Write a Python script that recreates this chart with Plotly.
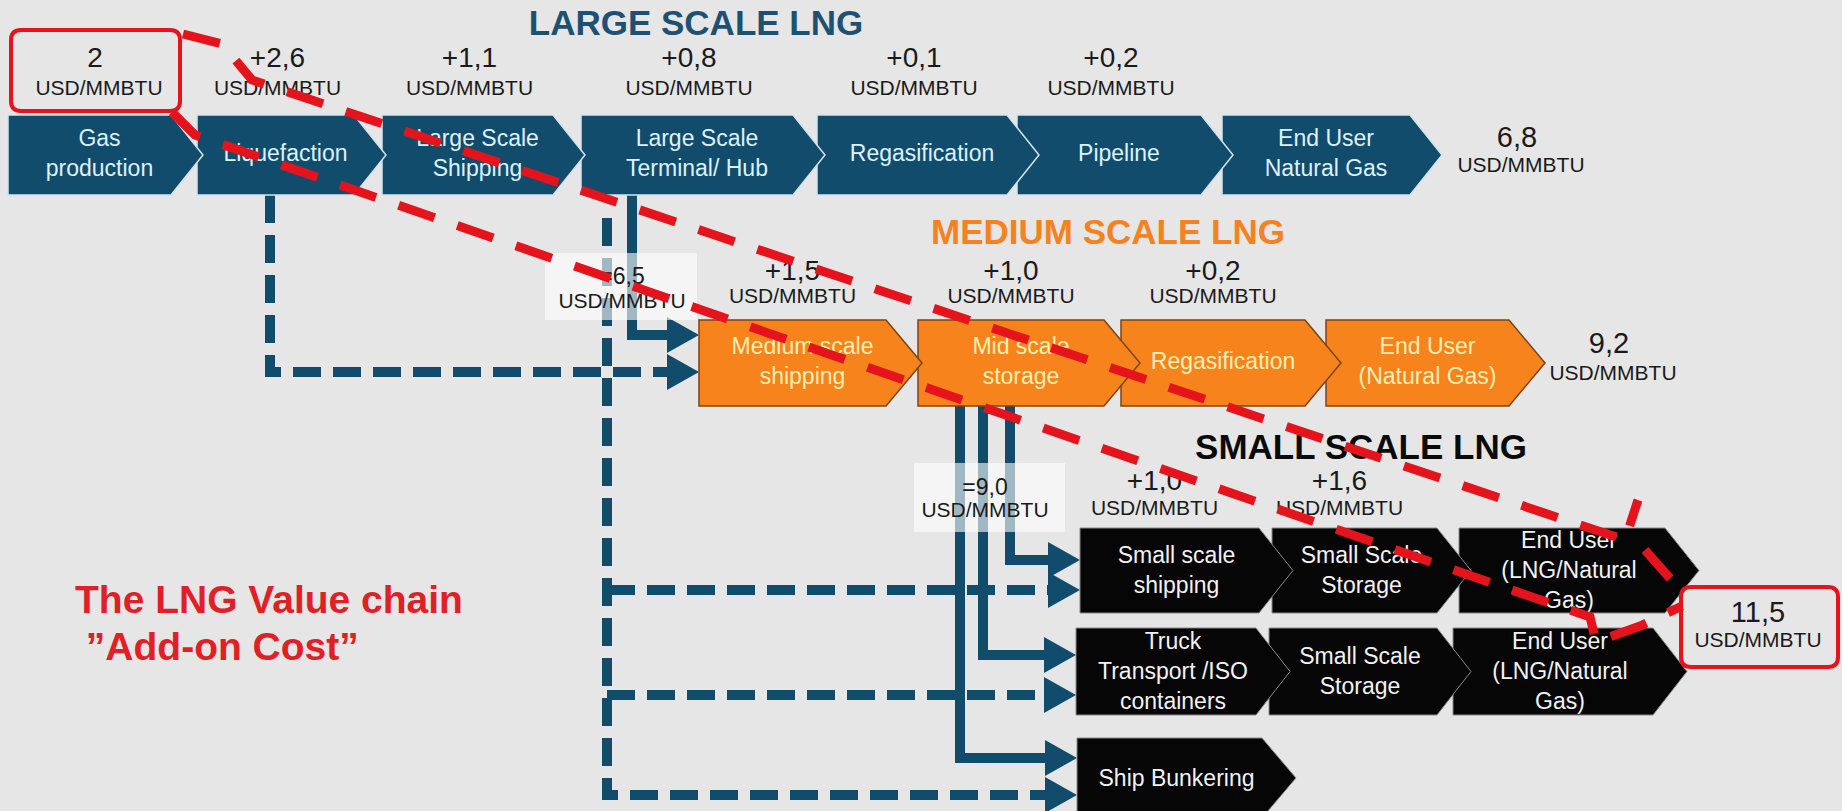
import plotly.graph_objects as go

# ---------------- data ----------------
start_price = 2.0
large_steps = ["Gas<br>production", "Liquefaction", "Large Scale<br>Shipping",
               "Large Scale<br>Terminal/ Hub", "Regasification", "Pipeline",
               "End User<br>Natural Gas"]
large_adds = [2.6, 1.1, 0.8, 0.1, 0.2]          # cost added at steps 2..6
large_total = 6.8

medium_steps = ["Medium scale<br>shipping", "Mid scale<br>storage",
                "Regasification", "End User<br>(Natural Gas)"]
medium_entry = 6.5
medium_adds = [1.5, 1.0, 0.2]
medium_total = 9.2

small_rows = [["Small scale<br>shipping", "Small Scale<br>Storage", "End User<br>(LNG/Natural<br>Gas)"],
              ["Truck<br>Transport /ISO<br>containers", "Small Scale<br>Storage", "End User<br>(LNG/Natural<br>Gas)"],
              ["Ship Bunkering"]]
small_entry = 9.0
small_adds = [1.0, 1.6]
small_total = 11.5

titles = ["LARGE SCALE LNG", "MEDIUM SCALE LNG", "SMALL SCALE LNG"]
unit = "USD/MMBTU"
caption = ["The LNG Value chain", " \u201dAdd-on Cost\u201d"]

# ---------------- layout geometry (pixels) ----------------
W, H = 1842, 811
BG = "#E6E6E6"
BLUE = "#124C6C"
ORANGE = "#F7831C"
RED = "#E5141C"
FONT = "Liberation Sans"

LARGE_X = [(8, 203), (197, 386), (382, 585), (581, 825), (817, 1039), (1017, 1233), (1222, 1442)]
LARGE_Y = (115, 195)
MED_X = [(699, 922), (918, 1140), (1121, 1341), (1326, 1545)]
MED_Y = (320, 406)
SMALL_X = [[(1080, 1293), (1272, 1471), (1459, 1699)],
           [(1076, 1290), (1269, 1471), (1453, 1687)],
           [(1077, 1296)]]
SMALL_Y = [(528, 613), (628, 715), (738, 818)]


def fmt(v, sign=""):
    if sign == "" and v == start_price:
        return "%g" % v
    return sign + ("%.1f" % v).replace(".", ",")


def chevron(L, R, top, bot, d):
    mid = (top + bot) / 2
    return f"M{L},{top} L{R-d},{top} L{R},{mid} L{R-d},{bot} L{L},{bot} Z"


shapes = []
traces = []


def text_trace(xs, ys, texts, size, color, pos="middle center", bold=False):
    if bold:
        texts = [f"<b>{t}</b>" for t in texts]
    traces.append(go.Scatter(x=xs, y=ys, text=texts, mode="text", textposition=pos,
                             textfont=dict(size=size, color=color, family=FONT),
                             hoverinfo="skip", showlegend=False))


# ---------- connectors (drawn first, below boxes) ----------
def conn(points, dash=None, color=BLUE, width=10):
    p = "M" + " L".join(f"{x},{y}" for x, y in points)
    shapes.append(dict(type="path", path=p, layer="below",
                       line=dict(color=color, width=width, dash=dash if dash else "solid")))


def head(xtip, y, length=32, half=18):
    shapes.append(dict(type="path", layer="below",
                       path=f"M{xtip-length},{y-half} L{xtip},{y} L{xtip-length},{y+half} Z",
                       fillcolor=BLUE, line=dict(width=0)))


DASH = "28px,12px"
# Liquefaction -> medium shipping (dashed)
conn([(270, 195), (270, 372), (670, 372)], DASH)
head(699, 372)
# Terminal -> medium shipping (solid)
conn([(632, 195), (632, 335), (670, 335)])
head(699, 335)
# Terminal -> small scale (long dashed)
conn([(607, 218), (607, 795), (1050, 795)], DASH)
conn([(607, 590), (1050, 590)], DASH)
conn([(607, 695), (1048, 695)], DASH)
head(1077, 795)
head(1080, 590)
head(1076, 695)
# Mid scale storage -> small scale (solid)
conn([(1010, 406), (1010, 560), (1050, 560)])
conn([(983, 406), (983, 655), (1048, 655)])
conn([(960, 406), (960, 758), (1050, 758)])
head(1080, 560)
head(1076, 655)
head(1077, 758)

# ---------- chevrons (reverse order so earlier tips overlap later boxes) ----------
for (L, R) in reversed(LARGE_X):
    shapes.append(dict(type="path", layer="below", path=chevron(L, R, *LARGE_Y, 32),
                       fillcolor=BLUE, line=dict(color="#D5E4EC", width=1.5)))
for (L, R) in reversed(MED_X):
    shapes.append(dict(type="path", layer="below", path=chevron(L, R, *MED_Y, 36),
                       fillcolor=ORANGE, line=dict(color="#7A4414", width=1.5)))
for row, (top, bot) in zip(SMALL_X, SMALL_Y):
    for (L, R) in reversed(row):
        shapes.append(dict(type="path", layer="below", path=chevron(L, R, top, bot, 34),
                           fillcolor="#060606", line=dict(color="#8A8A8A", width=1)))

# ---------- white value boxes ----------
shapes.append(dict(type="rect", layer="below", x0=545, x1=697, y0=253, y1=320,
                   fillcolor="rgba(255,255,255,0.6)", line=dict(width=0)))
shapes.append(dict(type="rect", layer="below", x0=914, x1=1065, y0=463, y1=532,
                   fillcolor="rgba(255,255,255,0.6)", line=dict(width=0)))


# ---------- red rounded boxes ----------
def rrect(x0, y0, x1, y1, r=10):
    return (f"M{x0+r},{y0} L{x1-r},{y0} Q{x1},{y0} {x1},{y0+r} L{x1},{y1-r} Q{x1},{y1} {x1-r},{y1} "
            f"L{x0+r},{y1} Q{x0},{y1} {x0},{y1-r} L{x0},{y0+r} Q{x0},{y0} {x0+r},{y0} Z")


shapes.append(dict(type="path", layer="above", path=rrect(11, 30, 180, 111),
                   line=dict(color=RED, width=4)))
shapes.append(dict(type="path", layer="above", path=rrect(1681, 587, 1838, 667),
                   line=dict(color=RED, width=4)))

# ---------- red dashed "add-on cost" lines ----------
RDASH = "38px,24px"
shapes.append(dict(type="path", layer="above",
                   path="M183,34 L222,44 L252,80 L1625,540 L1638,500 M1645,550 L1682,592",
                   line=dict(color=RED, width=9, dash=RDASH)))
shapes.append(dict(type="path", layer="above",
                   path="M172,112 L195,135 L1590,617 L1596,642 L1640,626 L1682,606",
                   line=dict(color=RED, width=9, dash=RDASH)))

# ---------- texts ----------
# box labels
text_trace([(L + R) / 2 - 6 for L, R in LARGE_X], [sum(LARGE_Y) / 2] * len(LARGE_X),
           large_steps, 23, "#DDF2FA")
text_trace([(L + R) / 2 - 8 for L, R in MED_X], [sum(MED_Y) / 2] * len(MED_X),
           medium_steps, 23, "#FFF0B4")
sx, sy, st = [], [], []
for row, (top, bot), names in zip(SMALL_X, SMALL_Y, small_rows):
    for (L, R), n in zip(row, names):
        sx.append((L + R) / 2 - 10)
        sy.append((top + bot) / 2 + 2)
        st.append(n)
text_trace(sx, sy, st, 23, "#F2F2F2")

# cost labels
VAL = "#1A1A1A"
lx = [(L + R) / 2 - 14 for L, R in LARGE_X[1:6]]
text_trace([95] + lx, [60] * 6, [fmt(start_price)] + [fmt(v, "+") for v in large_adds], 28, VAL)
text_trace([99] + lx, [90] * 6, [unit] * 6, 21, VAL)
mx = [(L + R) / 2 - 18 for L, R in MED_X[:3]]
text_trace(mx, [273] * 3, [fmt(v, "+") for v in medium_adds], 28, VAL)
text_trace(mx, [298] * 3, [unit] * 3, 21, VAL)
smx = [(L + R) / 2 - 32 for L, R in SMALL_X[0][:2]]
text_trace(smx, [483] * 2, [fmt(v, "+") for v in small_adds], 28, VAL)
text_trace(smx, [510] * 2, [unit] * 2, 21, VAL)

# entry prices (white boxes)
text_trace([622, 985], [278, 489], ["=" + fmt(medium_entry), "=" + fmt(small_entry)], 23, VAL)
text_trace([622, 985], [303, 512], [unit] * 2, 21, VAL)

# totals
text_trace([1517, 1609, 1758], [140, 346, 615],
           [fmt(large_total), fmt(medium_total), fmt(small_total)], 29, VAL)
text_trace([1521, 1613, 1758], [167, 375, 642], [unit] * 3, 21, VAL)

# titles
text_trace([696], [26], [titles[0]], 35, "#1E5072", bold=True)
text_trace([1108], [235], [titles[1]], 35, "#F58220", bold=True)
text_trace([1361], [450], [titles[2]], 35, "#0A0A0A", bold=True)

# caption
text_trace([75, 75], [603, 650], caption, 39, "#E01F26", pos="middle right", bold=True)

fig = go.Figure(traces)
fig.update_layout(
    width=W, height=H, margin=dict(l=0, r=0, t=0, b=0),
    paper_bgcolor=BG, plot_bgcolor=BG, shapes=shapes,
    xaxis=dict(range=[0, W], visible=False, fixedrange=True),
    yaxis=dict(range=[H, 0], visible=False, fixedrange=True),
)
fig.write_html("out.html", config={"displayModeBar": False},
               post_script="document.body.style.margin='0';document.body.style.overflow='hidden';")
